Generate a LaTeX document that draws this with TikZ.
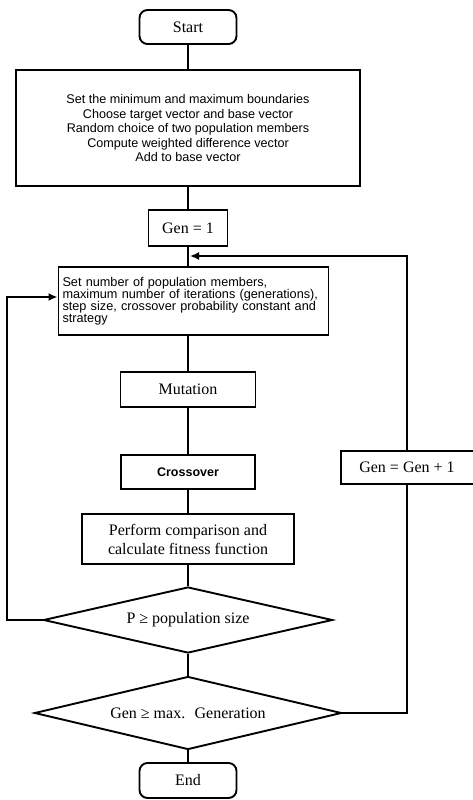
\documentclass[tikz,border=0pt]{standalone}
\usepackage{fontspec}
\setmainfont{Liberation Serif}
\setsansfont{Liberation Sans}
\usetikzlibrary{shapes.geometric,arrows.meta}
\begin{document}
\begin{tikzpicture}[x=1pt,y=-1pt,
  line width=1.9pt,
  box/.style={draw,line width=1.9pt,inner sep=0pt,align=center,font=\fontsize{16}{19}\selectfont},
  term/.style={box,rounded corners=8pt,minimum width=97,minimum height=34},
  sansbig/.style={font=\sffamily\fontsize{12.6}{14.5}\selectfont},
  sanssmall/.style={font=\sffamily\fontsize{12.7}{12}\selectfont},
  sansbold/.style={font=\sffamily\bfseries\fontsize{12.5}{14}\selectfont},
  dia/.style={draw,diamond,line width=1.9pt,inner sep=0pt,font=\fontsize{16}{19}\selectfont},
  conn/.style={draw,line width=1.9pt},
  arr/.style={conn,-{Latex[length=9pt,width=8pt]}}]
\useasboundingbox (0,0) rectangle (472,800);
\fill[white] (0,0) rectangle (472,800);

\node[term] (start) at (188,27) {Start};
\node[box,sansbig,minimum width=344,minimum height=116] (init) at (188,128)
  {Set the minimum and maximum boundaries\\Choose target vector and base vector\\Random choice of two population members\\Compute weighted difference vector\\Add to base vector};
\node[box,minimum width=79,minimum height=36] (gen1) at (188,228) {Gen = 1};
\node[box,sanssmall,align=left,text width=262,inner xsep=4,minimum height=68] (set) at (193.5,301)
  {\hyphenpenalty=10000 Set number of population members,\\maximum number of iterations (generations),\\step size, crossover probability constant and\\strategy};
\node[box,minimum width=135,minimum height=35] (mut) at (188,389.5) {Mutation};
\node[box,sansbold,minimum width=134,minimum height=34] (cross) at (188,472) {Crossover};
\node[box,minimum width=212,minimum height=50] (perf) at (188,539) {Perform comparison and\\calculate fitness function};
\node[dia,aspect=4.4,minimum width=289,minimum height=66] (dp) at (188,620) {P ≥ population size};
\node[dia,aspect=4.2,minimum width=307,minimum height=73] (dg) at (188,713) {Gen ≥ max.~ Generation};
\node[term,minimum height=35] (end) at (188,780.5) {End};
\node[box,minimum width=138,minimum height=33] (gp1) at (410,467.5) {\hspace*{-6pt}Gen = Gen + 1};

\coordinate (L) at (7,297);
\coordinate (J) at (190,256);
\coordinate (R) at (407,0);

\draw[conn] (start) -- (init);
\draw[conn] (init) -- (gen1);
\draw[conn] (gen1) -- (gen1 |- set.north);
\draw[conn] (set.south -| mut) -- (mut);
\draw[conn] (mut) -- (cross);
\draw[conn] (cross) -- (perf);
\draw[conn] (perf) -- (dp);
\draw[conn] (dp) -- (dg);
\draw[conn] (dg) -- (end);
\draw[arr] (dp.west) -| (L) -- (L -| set.west);
\draw[conn] (dg.east) -| (R |- gp1.south);
\draw[arr] (R |- gp1.north) |- (J);
\end{tikzpicture}
\end{document}
